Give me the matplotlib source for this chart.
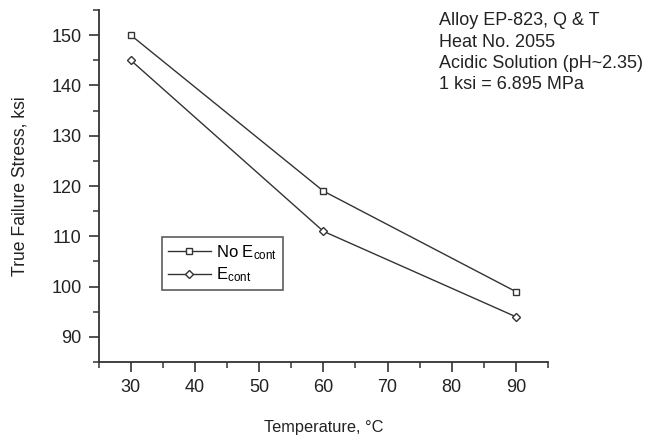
import matplotlib
matplotlib.use("Agg")
import matplotlib.pyplot as plt
from matplotlib.ticker import MultipleLocator

plt.rcParams['font.family'] = ['Liberation Sans', 'DejaVu Sans']
plt.rcParams['mathtext.fontset'] = 'custom'
plt.rcParams['mathtext.rm'] = 'Liberation Sans'
plt.rcParams['mathtext.it'] = 'Liberation Sans'

temperature = [30, 60, 90]
no_econt = [150, 119, 99]
econt = [145, 111, 94]
series_labels = ['No E$_{\\mathrm{cont}}$', 'E$_{\\mathrm{cont}}$']
note_lines = ['Alloy EP-823, Q & T', 'Heat No. 2055',
              'Acidic Solution (pH~2.35)', '1 ksi = 6.895 MPa']

fig = plt.figure(figsize=(6.5, 4.38), dpi=100)
ax = fig.add_axes([0.152, 0.1735, 0.691, 0.8035])
ink = '#333333'

ax.plot(temperature, no_econt, color=ink, lw=1.0, marker='s', ms=5,
        mfc='white', mec=ink, mew=1.0, label=series_labels[0])
ax.plot(temperature, econt, color=ink, lw=1.0, marker='D', ms=4.5,
        mfc='white', mec=ink, mew=1.0, label=series_labels[1])

ax.set_xlim(25, 95)
ax.set_ylim(85, 155)
ax.xaxis.set_minor_locator(MultipleLocator(5))
ax.yaxis.set_minor_locator(MultipleLocator(5))
ax.set_xticks(range(30, 91, 10))
ax.set_yticks(range(90, 151, 10))

for s in ['top', 'right']:
    ax.spines[s].set_visible(False)
for s in ['left', 'bottom']:
    ax.spines[s].set_color(ink)
    ax.spines[s].set_linewidth(1.3)

ax.tick_params(which='major', direction='out', length=7.5, width=1.2,
               colors=ink, labelsize=13, labelcolor='#222222', pad=5)
ax.tick_params(which='minor', direction='out', length=4, width=1.1, colors=ink)

ax.set_xlabel('Temperature, °C', fontsize=11.8, color='#222222', labelpad=17)
ax.set_ylabel('True Failure Stress, ksi', fontsize=12.7, color='#222222', labelpad=16)

leg = ax.legend(loc='upper left', bbox_to_anchor=(0.14, 0.355), fontsize=12,
                frameon=True, fancybox=False, edgecolor=ink, handlelength=2.6,
                handletextpad=0.3, borderpad=0.35, labelspacing=0.25,
                borderaxespad=0)
leg.get_frame().set_linewidth(1.2)

fig.text(0.675, 0.972, '\n'.join(note_lines), fontsize=13, color='#222222',
         va='top', ha='left', linespacing=1.33)

fig.savefig('out.png', dpi=100, facecolor='white')
